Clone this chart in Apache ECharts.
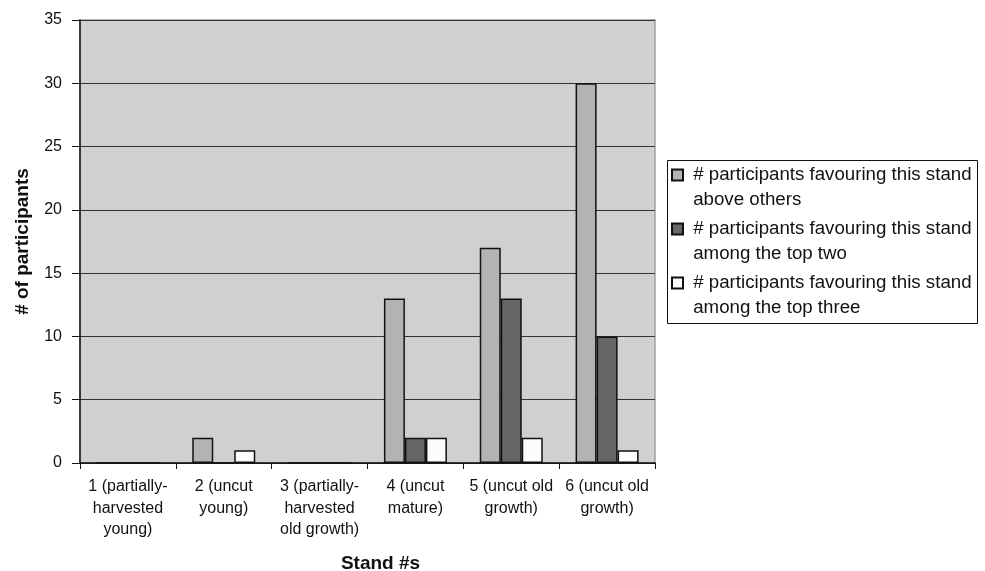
<!DOCTYPE html>
<html>
<head>
<meta charset="utf-8">
<script src="https://cdn.jsdelivr.net/npm/echarts@6/dist/echarts.min.js"></script>
<style>
  html, body { margin: 0; padding: 0; background: #ffffff; }
  #chart { width: 985px; height: 571px; }
</style>
</head>
<body>
<div id="chart"></div>
<script>
// Stand categories (x axis)
const stands = [
  '1 (partially-\nharvested\nyoung)',
  '2 (uncut\nyoung)',
  '3 (partially-\nharvested\nold growth)',
  '4 (uncut\nmature)',
  '5 (uncut old\ngrowth)',
  '6 (uncut old\ngrowth)'
];

// Series names and counts of participants per stand
const seriesNames = [
  '# participants favouring this stand\nabove others',
  '# participants favouring this stand\namong the top two',
  '# participants favouring this stand\namong the top three'
];
const favouredAbove = [0, 2, 0, 13, 17, 30];
const topTwo = [0, 0, 0, 2, 13, 10];
const topThree = [0, 1, 0, 2, 2, 1];

const barColors = ['#b3b3b3', '#666666', '#fcfcfc'];
const values = [favouredAbove, topTwo, topThree];

const font = "'Liberation Sans', Arial, sans-serif";

const chart = echarts.init(document.getElementById('chart'));

chart.setOption({
  animation: false,
  textStyle: { fontFamily: font },
  grid: {
    left: 80, top: 20, right: 330, bottom: 108,
    outerBoundsMode: 'none',
    containLabel: false,
    show: true,
    backgroundColor: '#d0d0d0',
    borderColor: '#a0a0a0',
    borderWidth: 1.5
  },
  // frame around the legend
  graphic: [{
    type: 'rect',
    z: -1,
    shape: { x: 667.5, y: 160.5, width: 310, height: 163 },
    style: { fill: '#ffffff', stroke: '#111', lineWidth: 1 }
  }],
  legend: {
    orient: 'vertical',
    left: 671, top: 137.5,
    padding: 0,
    itemWidth: 11, itemHeight: 11,
    itemGap: -21,
    icon: 'rect',
    selectedMode: false,
    // leading blank line keeps the icon level with the first text line
    formatter: name => '\n ' + name.replace('\n', '\n '),
    textStyle: {
      fontFamily: font,
      fontSize: 18.7,
      color: '#111',
      lineHeight: 25
    },
    data: seriesNames
  },
  xAxis: {
    type: 'category',
    data: stands,
    name: 'Stand #s',
    nameLocation: 'middle',
    nameGap: 91,
    nameTextStyle: {
      fontFamily: font, fontSize: 19, fontWeight: 'bold', color: '#111',
      padding: [0, 0, 0, 26]
    },
    axisLine: { lineStyle: { color: '#111', width: 1.5 } },
    axisTick: { show: true, alignWithLabel: false, length: 6, lineStyle: { color: '#111' } },
    axisLabel: {
      fontFamily: font, fontSize: 16, color: '#111',
      lineHeight: 21.5, margin: 13, interval: 0
    }
  },
  yAxis: {
    type: 'value',
    min: 0, max: 35, interval: 5,
    name: '# of participants',
    nameLocation: 'middle',
    nameGap: 48,
    nameTextStyle: { fontFamily: font, fontSize: 19, fontWeight: 'bold', color: '#111' },
    axisLine: { show: true, lineStyle: { color: '#111', width: 1.5 } },
    axisTick: { show: true, length: 8, lineStyle: { color: '#111' } },
    axisLabel: { fontFamily: font, fontSize: 16, color: '#111', margin: 18 },
    splitLine: { show: true, lineStyle: { color: '#333333', width: 1.2 } }
  },
  series: seriesNames.map((name, i) => ({
    name: name,
    type: 'bar',
    data: values[i],
    barWidth: 21,
    barGap: '0%',
    itemStyle: { color: barColors[i], borderColor: '#111', borderWidth: 1.5 }
  }))
});
</script>
</body>
</html>
